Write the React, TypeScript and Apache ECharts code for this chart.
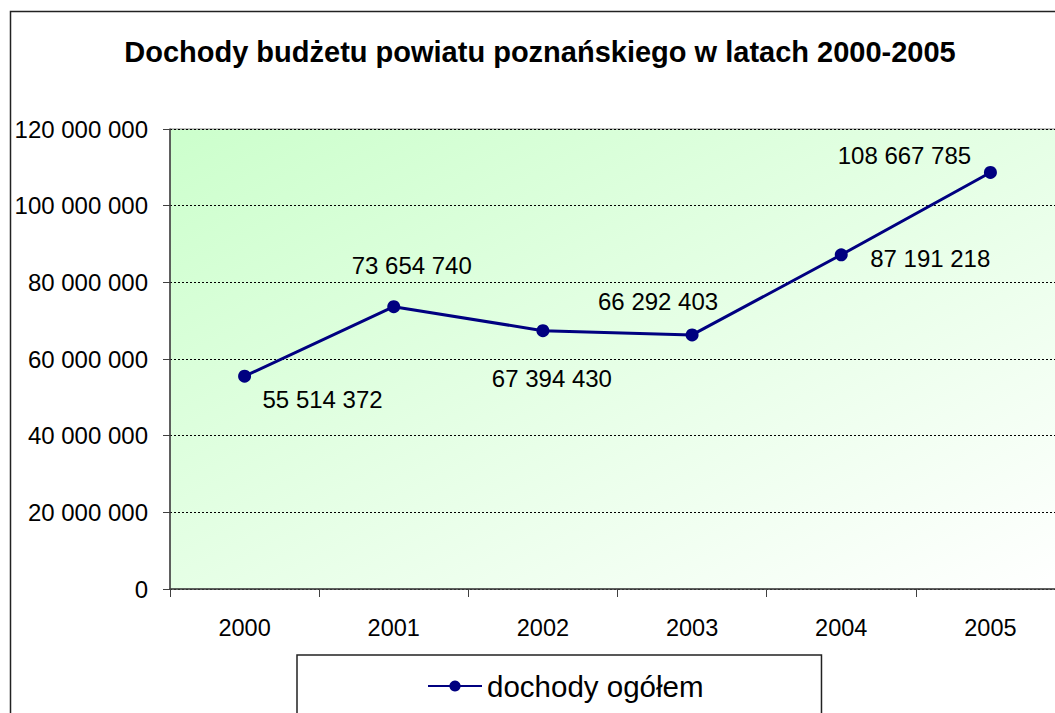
import React, { useEffect, useRef } from "react";
import * as echarts from "echarts";

const titleText = "Dochody budżetu powiatu poznańskiego w latach 2000-2005";
const seriesName = "dochody ogółem";
const years = ["2000", "2001", "2002", "2003", "2004", "2005"];
const values = [55514372, 73654740, 67394430, 66292403, 87191218, 108667785];
// label offsets (styling) for each point
const labelOffsets: [number, number][] = [
  [78, 23],
  [18, -41],
  [9, 48],
  [-34, -33],
  [89, 4],
  [-86, -17],
];

const fmt = (v: number) => String(Math.round(v)).replace(/\B(?=(\d{3})+(?!\d))/g, " ");

export default function App() {
  const ref = useRef<HTMLDivElement>(null);
  useEffect(() => {
    if (!ref.current) return;
    const chart = echarts.init(ref.current, null, { renderer: "svg" });
    const font = "Arial, 'Liberation Sans', sans-serif";
    chart.setOption({
      animation: false,
      backgroundColor: "#ffffff",
      textStyle: { fontFamily: font },
      title: {
        text: titleText,
        left: "center",
        top: 32,
        textStyle: { fontSize: 29, fontWeight: "bold", color: "#000", fontFamily: font },
      },
      graphic: [
        {
          type: "rect",
          shape: { x: 10.5, y: 11.5, width: 1064, height: 760 },
          style: { fill: "none", stroke: "#222", lineWidth: 1.5 },
          z: 100,
        },
      ],
      grid: {
        left: 170,
        top: 129,
        right: 15,
        bottom: 151,
        show: true,
        borderColor: "#808080",
        borderWidth: 1,
        backgroundColor: new echarts.graphic.LinearGradient(0, 0, 1, 1, [
          { offset: 0, color: "#ccffcc" },
          { offset: 1, color: "#ffffff" },
        ]),
      },
      legend: {
        left: 297,
        top: 655,
        padding: [16, 118, 22, 130],
        borderColor: "#222",
        borderWidth: 1.5,
        itemWidth: 54,
        itemHeight: 14,
        textStyle: { fontSize: 29.5, color: "#000", fontFamily: font },
        data: [seriesName],
      },
      xAxis: {
        type: "category",
        data: years,
        boundaryGap: true,
        axisLine: { lineStyle: { color: "#404040", width: 1.5 } },
        axisTick: { show: true, length: 8, lineStyle: { color: "#404040" } },
        axisLabel: { fontSize: 23.5, color: "#000", margin: 27, fontFamily: font },
        splitLine: { show: false },
      },
      yAxis: {
        type: "value",
        min: 0,
        max: 120000000,
        interval: 20000000,
        axisLine: { show: true, lineStyle: { color: "#404040", width: 1.5 } },
        axisTick: { show: true, length: 7, lineStyle: { color: "#404040" } },
        axisLabel: { fontSize: 24, color: "#000", margin: 22, formatter: (v: number) => fmt(v), fontFamily: font },
        splitLine: { show: true, lineStyle: { color: "#000", type: [2, 2], width: 1 } },
      },
      series: [
        {
          name: seriesName,
          type: "line",
          data: values.map((v, i) => ({
            value: v,
            label: { offset: labelOffsets[i] },
          })),
          symbol: "circle",
          symbolSize: 13,
          lineStyle: { color: "#000080", width: 3 },
          itemStyle: { color: "#000080" },
          label: {
            show: true,
            position: "inside",
            fontSize: 24,
            color: "#000",
            fontFamily: font,
            formatter: (p: any) => fmt(p.value),
          },
        },
      ],
    });
    return () => chart.dispose();
  }, []);
  return (
    <div style={{ position: "fixed", left: 0, top: 0, width: 1055, height: 713, overflow: "hidden" }}>
      <div ref={ref} style={{ width: 1080, height: 740 }} />
    </div>
  );
}
